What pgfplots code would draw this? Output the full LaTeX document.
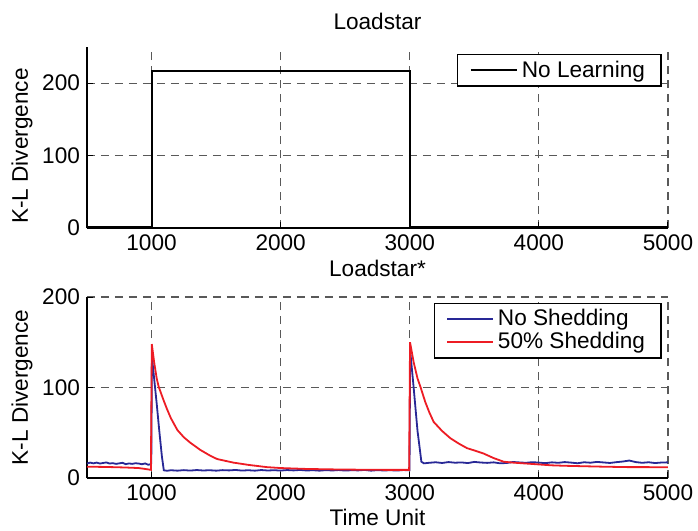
\documentclass[border=0pt]{standalone}
\usepackage{fontspec}
\setmainfont{Liberation Sans}
\usepackage{pgfplots}
\pgfplotsset{compat=1.18}
\definecolor{noshed}{RGB}{40,40,150}
\definecolor{shed}{RGB}{237,28,36}

\pgfplotsset{
  kl/.style={
    width=290.5pt, height=90.5pt, scale only axis,
    xmin=500, xmax=5000,
    xtick={1000,2000,3000,4000,5000},
    axis x line*=bottom, axis y line*=left,
    axis line style={-, line width=0.7pt},
    tick align=inside, major tick length=3pt,
    tick style={line width=0.5pt, black},
    grid=major,
    major grid style={dashed, dash pattern=on 4pt off 3pt, black!65, line width=0.55pt},
    font=\fontsize{11.3}{13}\selectfont,
    /pgf/number format/assume math mode=true,
    scaled x ticks=false,
    xticklabel style={/pgf/number format/1000 sep={}},
    xticklabel shift=0pt,
    yticklabel shift=0pt,
    ylabel={K-L Divergence},
    legend cell align=left,
    legend style={anchor=north east, draw=black, line width=0.6pt,
      inner xsep=6pt, inner ysep=1pt, row sep=-2pt,
      font=\fontsize{11.3}{13}\selectfont},
    legend image code/.code={\draw[#1] (0pt,0pt) -- (20pt,0pt);
      \path (0pt,0pt) -- (23pt,0pt);},
  }
}

\begin{document}
\begin{tikzpicture}
\useasboundingbox (-43.5pt,114pt) rectangle (305.5pt,-151.5pt);
\begin{axis}[kl,
  at={(0pt,0pt)},
  ymin=0, ymax=250, ytick={0,100,200},
  title={Loadstar},
  every axis title/.style={at={(axis description cs:0.5,1.144)}, anchor=center},
  ylabel style={at={(axis description cs:-0.112,0.453)}, anchor=center},
  legend style={at={(0.989,0.961)}},
]
\addplot[black, line width=1pt] coordinates {
  (500,1) (1000,1) (1000,217) (3000,217) (3000,1) (5000,1)};
\addlegendentry{No Learning\hspace{9pt}}
\end{axis}

\begin{axis}[kl,
  at={(0pt,-125pt)},
  ymin=0, ymax=200, ytick={0,100,200},
  title={Loadstar*},
  every axis title/.style={at={(axis description cs:0.5,1.16)}, anchor=center},
  ylabel style={at={(axis description cs:-0.112,0.5)}, anchor=center},
  xlabel={Time Unit},
  xlabel style={at={(axis description cs:0.5,-0.22)}, anchor=center},
  legend style={at={(0.989,0.969)}},
]
\addplot[noshed, line width=0.9pt] coordinates {
  (500,16) (525,17) (550,16.2) (575,17) (600,16) (625,16.6) (650,17.2) (675,16)
  (700,16.4) (725,15.6) (750,16.2) (775,16.8) (800,15.3) (825,16.1) (850,15.6)
  (875,16.3) (900,16) (925,15.2) (950,16.1) (975,14.6) (990,15.2) (998,16)
  (1003,134) (1020,110) (1040,82) (1060,52) (1080,24) (1095,8.5) (1120,8)
  (1150,8.6) (1200,8.1) (1250,8.7) (1300,8.2) (1350,8.8) (1400,8.3) (1450,8.6)
  (1500,8.1) (1550,8.7) (1600,8.4) (1650,8.9) (1700,8.2) (1750,8.6) (1800,8.1)
  (1850,8.8) (1900,8.3) (1950,8.6) (2000,8.2) (2050,8.8) (2100,8.4) (2150,8.9)
  (2200,8.3) (2250,8.6) (2300,8.1) (2350,8.7) (2400,8.3) (2450,8.8) (2500,8.2)
  (2550,8.6) (2600,8.4) (2650,8.9) (2700,8.1) (2750,8.7) (2800,8.3) (2850,8.6)
  (2900,8.2) (2950,8.8) (2998,8.5)
  (3003,141) (3030,100) (3060,52) (3090,18) (3110,16.2) (3150,16.8) (3200,17.4)
  (3250,16.6) (3300,17.6) (3350,16.9) (3400,17.2) (3450,16.5) (3500,17.8)
  (3550,17.1) (3600,16.7) (3650,17.3) (3700,16.2) (3750,16.6) (3800,17.7)
  (3850,17.2) (3900,16.8) (3950,17.5) (4000,17) (4050,16.4) (4100,17.3)
  (4150,16.8) (4200,17.6) (4250,17) (4300,16.3) (4350,17.4) (4400,16.9)
  (4450,17.8) (4500,17.2) (4550,16.6) (4600,17.5) (4650,18.2) (4700,19.3)
  (4750,17.6) (4800,16.8) (4850,17.4) (4900,16.5) (4950,17.1) (5000,17.3)};
\addlegendentry{No Shedding\hspace{9pt}}
\addplot[shed, line width=0.9pt] coordinates {
  (500,12.5) (600,12.3) (700,12) (800,11.6) (900,11) (950,10) (995,9)
  (1002,148) (1020,128) (1040,110) (1055,101) (1075,93) (1093,86) (1120,76)
  (1150,66) (1200,53) (1250,45) (1300,39) (1378,31) (1450,25) (1507,21)
  (1570,19) (1634,17) (1750,14.5) (1894,12) (2000,11) (2200,10) (2410,9.5)
  (2600,9.2) (2800,9) (2995,9)
  (3002,150) (3030,128) (3060,110) (3082,101) (3120,84) (3150,73) (3185,62)
  (3250,52) (3314,44) (3380,38) (3443,33) (3510,30) (3572,27) (3650,22)
  (3727,18) (3800,17) (3900,16) (3998,15) (4100,14) (4200,13.5) (4346,13)
  (4500,12.5) (4700,12) (4850,12) (5000,11.8)};
\addlegendentry{50\% Shedding\hspace{9pt}}
\end{axis}
\end{tikzpicture}
\end{document}
